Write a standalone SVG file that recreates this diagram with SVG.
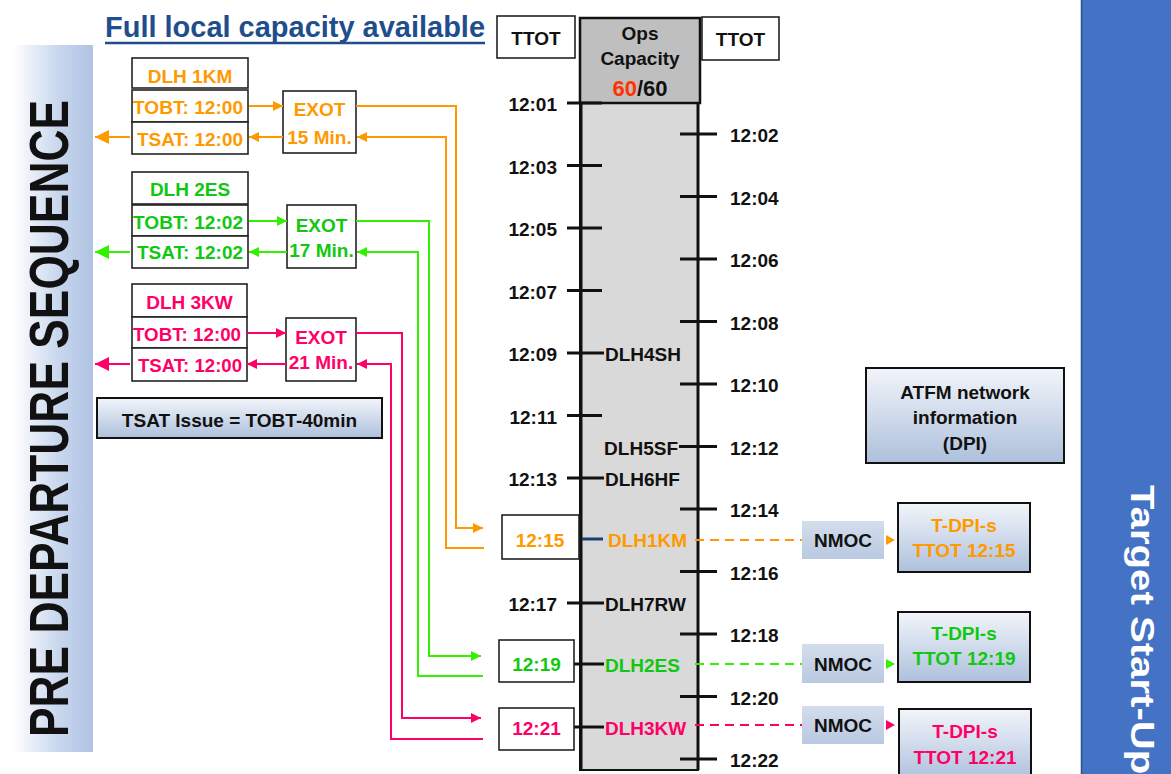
<svg xmlns="http://www.w3.org/2000/svg" width="1171" height="774" viewBox="0 0 1171 774">
<defs>
<style>
.t{font-family:"Liberation Sans",Arial,sans-serif;font-weight:bold;font-size:19px}
.o{fill:#FF9900}.g{fill:#11C811}.p{fill:#FF0066}.k{fill:#111}
.box{fill:#fff;stroke:#222;stroke-width:1.6}
.gbox{stroke:#111;stroke-width:2}
.tick{stroke:#111;stroke-width:3}
.lo{fill:none;stroke:#FF9900;stroke-width:2}
.lg{fill:none;stroke:#33F000;stroke-width:2}
.lp{fill:none;stroke:#FF0066;stroke-width:2}
.do{stroke:#FF9900;stroke-width:2;stroke-dasharray:9 6}
.dg{stroke:#33F000;stroke-width:2;stroke-dasharray:9 6}
.dp{stroke:#FF0066;stroke-width:2;stroke-dasharray:9 6}
</style>
<linearGradient id="band" x1="0" y1="0" x2="1" y2="0">
<stop offset="0" stop-color="#fff"/><stop offset="0.55" stop-color="#CAD8EE"/><stop offset="1" stop-color="#AFC3E3"/>
</linearGradient>
<linearGradient id="bl" x1="0" y1="0" x2="0" y2="1">
<stop offset="0" stop-color="#F2F5FA"/><stop offset="1" stop-color="#ADC0DC"/>
</linearGradient>
<linearGradient id="nm" x1="0" y1="0" x2="0" y2="1">
<stop offset="0" stop-color="#D3DDEC"/><stop offset="0.5" stop-color="#C6D3E7"/><stop offset="1" stop-color="#B9C9E1"/>
</linearGradient>
<marker id="ao" markerUnits="userSpaceOnUse" markerWidth="10" markerHeight="10" refX="10" refY="5" orient="auto"><path d="M0,0L10,5L0,10z" fill="#FF9900"/></marker>
<marker id="ag" markerUnits="userSpaceOnUse" markerWidth="10" markerHeight="10" refX="10" refY="5" orient="auto"><path d="M0,0L10,5L0,10z" fill="#33F000"/></marker>
<marker id="ap" markerUnits="userSpaceOnUse" markerWidth="10" markerHeight="10" refX="10" refY="5" orient="auto"><path d="M0,0L10,5L0,10z" fill="#FF0066"/></marker>
<marker id="bo" markerUnits="userSpaceOnUse" markerWidth="14" markerHeight="14" refX="14" refY="7" orient="auto"><path d="M0,0L14,7L0,14z" fill="#FF9900"/></marker>
<marker id="bg" markerUnits="userSpaceOnUse" markerWidth="14" markerHeight="14" refX="14" refY="7" orient="auto"><path d="M0,0L14,7L0,14z" fill="#33F000"/></marker>
<marker id="bp" markerUnits="userSpaceOnUse" markerWidth="14" markerHeight="14" refX="14" refY="7" orient="auto"><path d="M0,0L14,7L0,14z" fill="#FF0066"/></marker>
</defs>
<rect width="1171" height="774" fill="#fff"/>

<g id="left-band">
<rect x="13" y="45" width="80" height="707" fill="url(#band)"/>
<text class="t k" transform="translate(68,418.5) rotate(-90)" text-anchor="middle" style="font-size:56px" textLength="637" lengthAdjust="spacingAndGlyphs">PRE DEPARTURE SEQUENCE</text>
</g>

<g id="right-band">
<rect x="1081" y="0" width="90" height="774" fill="#4472C4"/>
<line x1="1081.5" y1="0" x2="1081.5" y2="774" stroke="#2F528F" stroke-width="1.5"/>
<text class="t" fill="#fff" transform="translate(1131,485) rotate(90)" style="font-size:34px" textLength="328" lengthAdjust="spacingAndGlyphs">Target Start-Up A</text>
</g>

<g id="title">
<text class="t" x="105" y="37" style="font-size:29px" fill="#1F4E8C" textLength="380" lengthAdjust="spacingAndGlyphs">Full local capacity available</text>
<line x1="105" y1="43" x2="485" y2="43" stroke="#1F4E8C" stroke-width="2.5"/>
</g>

<g id="flight-1KM">
<rect class="box" x="132" y="58" width="116" height="30"/>
<rect class="box" x="132" y="90" width="116" height="32"/>
<rect class="box" x="132" y="122" width="116" height="32"/>
<text class="t o" x="190" y="83" text-anchor="middle">DLH 1KM</text>
<text class="t o" x="188" y="114" text-anchor="middle" textLength="110" lengthAdjust="spacingAndGlyphs">TOBT: 12:00</text>
<text class="t o" x="190" y="146" text-anchor="middle" textLength="106" lengthAdjust="spacingAndGlyphs">TSAT: 12:00</text>
</g>
<g id="exot-1KM">
<rect class="box" x="283" y="91" width="73" height="62"/>
<text class="t o" x="319.5" y="116" text-anchor="middle">EXOT</text>
<text class="t o" x="319.5" y="144" text-anchor="middle">15 Min.</text>
</g>

<g id="flight-2ES">
<rect class="box" x="132" y="172" width="116" height="32"/>
<rect class="box" x="132" y="205" width="116" height="31"/>
<rect class="box" x="132" y="236" width="116" height="32"/>
<text class="t g" x="190" y="196" text-anchor="middle">DLH 2ES</text>
<text class="t g" x="188" y="229" text-anchor="middle" textLength="110" lengthAdjust="spacingAndGlyphs">TOBT: 12:02</text>
<text class="t g" x="190" y="259" text-anchor="middle" textLength="106" lengthAdjust="spacingAndGlyphs">TSAT: 12:02</text>
</g>
<g id="exot-2ES">
<rect class="box" x="287" y="205" width="69" height="63"/>
<text class="t g" x="321.5" y="232" text-anchor="middle">EXOT</text>
<text class="t g" x="321.5" y="257" text-anchor="middle">17 Min.</text>
</g>

<g id="flight-3KW">
<rect class="box" x="132" y="284" width="115" height="33"/>
<rect class="box" x="132" y="317" width="115" height="31"/>
<rect class="box" x="132" y="348" width="115" height="33"/>
<text class="t p" x="189.5" y="309" text-anchor="middle">DLH 3KW</text>
<text class="t p" x="187" y="341" text-anchor="middle" textLength="108" lengthAdjust="spacingAndGlyphs">TOBT: 12:00</text>
<text class="t p" x="190" y="372" text-anchor="middle" textLength="104" lengthAdjust="spacingAndGlyphs">TSAT: 12:00</text>
</g>
<g id="exot-3KW">
<rect class="box" x="286" y="318" width="70" height="63"/>
<text class="t p" x="321" y="344" text-anchor="middle">EXOT</text>
<text class="t p" x="321" y="369" text-anchor="middle">21 Min.</text>
</g>

<g id="tsat-issue">
<rect class="gbox" x="97" y="398" width="285" height="40" fill="url(#bl)"/>
<text class="t k" x="239.5" y="427" text-anchor="middle">TSAT Issue = TOBT-40min</text>
</g>

<g id="ttot-left">
<rect class="box" x="497" y="16" width="78" height="42" stroke-width="2"/>
<text class="t k" x="536" y="45" text-anchor="middle">TTOT</text>
</g>
<g id="ttot-right">
<rect class="box" x="702" y="17" width="77" height="43" stroke-width="2"/>
<text class="t k" x="740.5" y="46" text-anchor="middle">TTOT</text>
</g>

<g id="timeline">
<rect x="580" y="103" width="118" height="667" fill="#D9D9D9" stroke="#111" stroke-width="2"/>
<rect x="580" y="18" width="120" height="85" fill="#BFBFBF" stroke="#111" stroke-width="2.5"/>
<text class="t k" x="640" y="40" text-anchor="middle">Ops</text>
<text class="t k" x="640" y="65" text-anchor="middle">Capacity</text>
<text class="t k" x="640" y="96" text-anchor="middle" style="font-size:22px"><tspan fill="#FF3300">60</tspan>/60</text>
<line class="tick" x1="581" y1="103" x2="581" y2="770"/>
<line class="tick" x1="698" y1="103" x2="698" y2="770"/>
<g class="tick">
<line x1="567" y1="103" x2="602" y2="103"/>
<line x1="567" y1="165.5" x2="602" y2="165.5"/>
<line x1="567" y1="228" x2="602" y2="228"/>
<line x1="567" y1="290.5" x2="602" y2="290.5"/>
<line x1="567" y1="353" x2="604" y2="353"/>
<line x1="567" y1="415.5" x2="602" y2="415.5"/>
<line x1="567" y1="478" x2="604" y2="478"/>
<line x1="567" y1="603" x2="604" y2="603"/>
<line x1="574" y1="664" x2="604" y2="664"/>
<line x1="574" y1="727" x2="604" y2="727"/>
<line x1="680" y1="134" x2="717" y2="134"/>
<line x1="680" y1="196.5" x2="717" y2="196.5"/>
<line x1="680" y1="259" x2="717" y2="259"/>
<line x1="680" y1="321.5" x2="717" y2="321.5"/>
<line x1="680" y1="384" x2="717" y2="384"/>
<line x1="679" y1="446.5" x2="717" y2="446.5"/>
<line x1="680" y1="509" x2="717" y2="509"/>
<line x1="680" y1="571.5" x2="717" y2="571.5"/>
<line x1="680" y1="634" x2="717" y2="634"/>
<line x1="680" y1="696.5" x2="717" y2="696.5"/>
<line x1="680" y1="759" x2="717" y2="759"/>
</g>
<line x1="582" y1="539" x2="603" y2="539" stroke="#1F3E6E" stroke-width="3"/>
<g class="t k" text-anchor="end">
<text x="557" y="111">12:01</text>
<text x="557" y="173.5">12:03</text>
<text x="557" y="236">12:05</text>
<text x="557" y="298.5">12:07</text>
<text x="557" y="361">12:09</text>
<text x="557" y="423.5">12:11</text>
<text x="557" y="486">12:13</text>
<text x="557" y="611">12:17</text>
</g>
<g class="t k">
<text x="730" y="142">12:02</text>
<text x="730" y="204.5">12:04</text>
<text x="730" y="267">12:06</text>
<text x="730" y="329.5">12:08</text>
<text x="730" y="392">12:10</text>
<text x="730" y="454.5">12:12</text>
<text x="730" y="517">12:14</text>
<text x="730" y="579.5">12:16</text>
<text x="730" y="642">12:18</text>
<text x="730" y="704.5">12:20</text>
<text x="730" y="767">12:22</text>
</g>
<g class="t">
<text class="k" x="605" y="361">DLH4SH</text>
<text class="k" x="678" y="454.5" text-anchor="end">DLH5SF</text>
<text class="k" x="605" y="486">DLH6HF</text>
<text class="o" x="608" y="547">DLH1KM</text>
<text class="k" x="605" y="611">DLH7RW</text>
<text class="g" x="605" y="672">DLH2ES</text>
<text class="p" x="605" y="735">DLH3KW</text>
</g>
</g>

<g id="slot-1215">
<rect class="box" x="502" y="515" width="77" height="44" stroke-width="2"/>
<text class="t o" x="540" y="547" text-anchor="middle">12:15</text>
</g>
<g id="slot-1219">
<rect class="box" x="499" y="640" width="75" height="42" stroke-width="2"/>
<text class="t g" x="536.5" y="671" text-anchor="middle">12:19</text>
</g>
<g id="slot-1221">
<rect class="box" x="499" y="708" width="75" height="42" stroke-width="2"/>
<text class="t p" x="536.5" y="735" text-anchor="middle">12:21</text>
</g>

<g id="atfm">
<rect class="gbox" x="866" y="368" width="198" height="95" fill="url(#bl)"/>
<text class="t k" x="965" y="399" text-anchor="middle">ATFM network</text>
<text class="t k" x="965" y="424" text-anchor="middle">information</text>
<text class="t k" x="965" y="450" text-anchor="middle">(DPI)</text>
</g>

<g id="nmoc-1"><rect x="802" y="521" width="82" height="38" fill="url(#nm)"/><text class="t k" x="843" y="547" text-anchor="middle">NMOC</text></g>
<g id="nmoc-2"><rect x="802" y="644" width="82" height="39" fill="url(#nm)"/><text class="t k" x="843" y="671" text-anchor="middle">NMOC</text></g>
<g id="nmoc-3"><rect x="802" y="706" width="82" height="38" fill="url(#nm)"/><text class="t k" x="843" y="732" text-anchor="middle">NMOC</text></g>

<g id="tdpi-1">
<rect class="gbox" x="898" y="503" width="132" height="69" fill="url(#bl)"/>
<text class="t o" x="964" y="532" text-anchor="middle">T-DPI-s</text>
<text class="t o" x="964" y="557" text-anchor="middle">TTOT 12:15</text>
</g>
<g id="tdpi-2">
<rect class="gbox" x="898" y="612" width="132" height="70" fill="url(#bl)"/>
<text class="t g" x="964" y="640" text-anchor="middle">T-DPI-s</text>
<text class="t g" x="964" y="665" text-anchor="middle">TTOT 12:19</text>
</g>
<g id="tdpi-3">
<rect class="gbox" x="899" y="709" width="132" height="72" fill="url(#bl)"/>
<text class="t p" x="965" y="738" text-anchor="middle">T-DPI-s</text>
<text class="t p" x="965" y="764" text-anchor="middle">TTOT 12:21</text>
</g>

<g id="connectors">
<path class="lo" d="M249,106H283" marker-end="url(#ao)"/>
<path class="lo" d="M283,137H249" marker-end="url(#ao)"/>
<path class="lo" d="M130,137H95" stroke-width="4" marker-end="url(#bo)"/>
<path class="lo" d="M356,106H456V528H483" marker-end="url(#ao)"/>
<path class="lo" d="M484,548H446V137H357" marker-end="url(#ao)"/>

<path class="lg" d="M249,221H287" marker-end="url(#ag)"/>
<path class="lg" d="M287,252H249" marker-end="url(#ag)"/>
<path class="lg" d="M130,252H95" stroke-width="4" marker-end="url(#bg)"/>
<path class="lg" d="M356,221H429V656H481" marker-end="url(#ag)"/>
<path class="lg" d="M483,676H418V252H357" marker-end="url(#ag)"/>

<path class="lp" d="M247,333H286" marker-end="url(#ap)"/>
<path class="lp" d="M286,364H247" marker-end="url(#ap)"/>
<path class="lp" d="M130,364H95" stroke-width="4" marker-end="url(#bp)"/>
<path class="lp" d="M356,333H402V718H481" marker-end="url(#ap)"/>
<path class="lp" d="M483,739H391V364H357" marker-end="url(#ap)"/>

<line class="do" x1="695" y1="540" x2="802" y2="540"/>
<line class="dg" x1="695" y1="664" x2="802" y2="664"/>
<line class="dp" x1="695" y1="725" x2="802" y2="725"/>
<path d="M886,535L895,540L886,545z" fill="#FF9900"/>
<path d="M886,659L895,664L886,669z" fill="#33F000"/>
<path d="M886,720L895,725L886,730z" fill="#FF0066"/>
</g>
</svg>
